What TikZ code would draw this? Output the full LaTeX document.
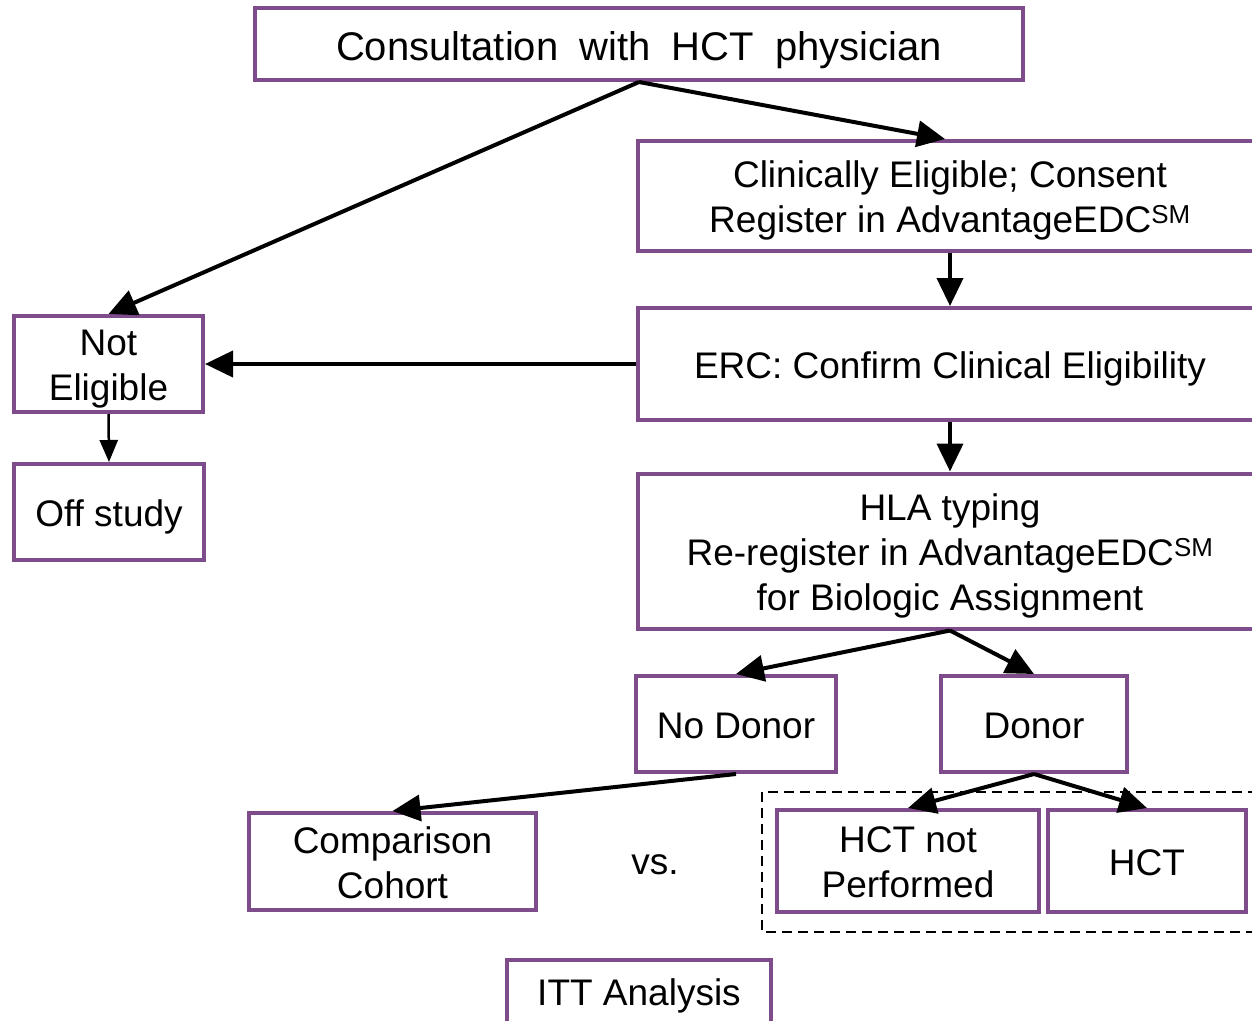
\documentclass[tikz,border=0pt]{standalone}
\usepackage{fontspec}
\setmainfont{Liberation Sans}
\usetikzlibrary{arrows.meta}
\definecolor{boxpurple}{RGB}{126,76,139}
\newcommand{\boxtxt}[2][-11.5pt]{\raisebox{#1}[0pt][0pt]{\begin{tabular}{@{}c@{}}#2\end{tabular}}}
\tikzset{
  box/.style={draw=boxpurple, line width=4pt, fill=white, inner sep=0pt,
    font=\fontsize{37}{45}\selectfont},
  conn/.style={line width=4pt, -{Triangle[length=28pt,width=26pt]}},
  thinconn/.style={line width=2.5pt, -{Triangle[length=22pt,width=18pt]}},
}
\begin{document}
\begin{tikzpicture}[x=1pt,y=-1pt]
\useasboundingbox (0,0) rectangle (1252,1020);
\clip (0,0) rectangle (1252,1020);
% dashed group
\draw[line width=2.5pt, dash pattern=on 10pt off 6pt] (762,792) rectangle (1270,932);
% boxes
\node[box, minimum width=768pt, minimum height=72pt, font=\fontsize{40}{48}\selectfont] (title) at (639,44) {\boxtxt[-13pt]{Consultation\hspace{0.25em} with\hspace{0.25em} HCT\hspace{0.25em} physician}};
\node[box, minimum width=624pt, minimum height=110pt] (clin) at (950,196) {\boxtxt{Clinically Eligible; Consent\\Register in AdvantageEDC\textsuperscript{SM}}};
\node[box, minimum width=624pt, minimum height=112pt] (erc) at (950,364) {\boxtxt{ERC: Confirm Clinical Eligibility}};
\node[box, minimum width=624pt, minimum height=155pt] (hla) at (950,551) {\boxtxt{HLA typing\\Re-register in AdvantageEDC\textsuperscript{SM}\\for Biologic Assignment}};
\node[box, minimum width=189pt, minimum height=96pt] (notel) at (108.5,364) {\boxtxt{Not\\Eligible}};
\node[box, minimum width=190pt, minimum height=96pt] (off) at (109,512) {\boxtxt{Off study}};
\node[box, minimum width=200pt, minimum height=96pt] (nodon) at (736,724) {\boxtxt{No Donor}};
\node[box, minimum width=186pt, minimum height=96pt] (don) at (1034,724) {\boxtxt{Donor}};
\node[box, minimum width=287pt, minimum height=97pt] (comp) at (392.5,861.5) {\boxtxt{Comparison\\Cohort}};
\node[box, minimum width=262pt, minimum height=102pt] (hctnp) at (908,861) {\boxtxt{HCT not\\Performed}};
\node[box, minimum width=198pt, minimum height=102pt] (hct) at (1147,861) {\boxtxt{HCT}};
\node[box, minimum width=264pt, minimum height=80pt, anchor=north] (itt) at (639,958) {\raisebox{0pt}[0pt][0pt]{\raisebox{-5pt}{ITT Analysis}}};
\node[font=\fontsize{37}{45}\selectfont, inner sep=0pt] (vs) at (655,865) {vs.};
% connectors
\draw[conn] (title.south) -- (clin.north -| 945,0);
\draw[conn] (title.south) -- (notel.north);
\draw[conn] (clin.south) -- (erc.north);
\draw[conn] (erc.west) -- (notel.east);
\draw[thinconn] (notel.south) -- (off.north);
\draw[conn] (erc.south) -- (hla.north);
\draw[conn] (hla.south) -- (nodon.north);
\draw[conn] (hla.south) -- (don.north);
\draw[conn] (nodon.south) -- (comp.north);
\draw[conn] (don.south) -- (hctnp.north);
\draw[conn] (don.south) -- (hct.north);
\end{tikzpicture}
\end{document}
